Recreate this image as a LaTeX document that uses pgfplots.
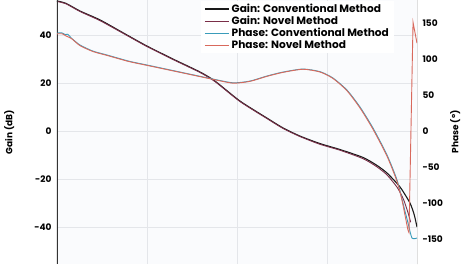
\documentclass[border=0pt]{standalone}
\usepackage{pgfplots}
\pgfplotsset{compat=1.18}
\usepackage{fontspec}
\setmainfont{Poppins}
\definecolor{gconv}{HTML}{1A1A1A}
\definecolor{gnov}{HTML}{7A2E48}
\definecolor{pconv}{HTML}{3A9CBA}
\definecolor{pnov}{HTML}{D9695C}
\definecolor{bg}{HTML}{FAFBFD}
\definecolor{gridc}{HTML}{E4E6EA}
\begin{document}
\begin{tikzpicture}
\begin{axis}[name=ax, width=360pt, height=264pt, scale only axis,
  xmin=0, xmax=4, ymin=-55.4, ymax=54.6,
  axis background/.style={fill=bg},
  axis line style={draw=none},
  xtick={1,2,3}, xticklabels={}, ytick={-40,-20,0,20,40},
  major tick length=0pt,
  grid=major, major grid style={gridc, line width=0.8pt},
  /pgf/number format/assume math mode=true,
  yticklabel style={font=\fontsize{9}{11}\bfseries, xshift=-2pt},
  ylabel={Gain (dB)},
  ylabel style={at={(axis description cs:-0.133,0.5)}, anchor=center, font=\fontsize{9}{11}\bfseries},
  ]
\addplot[gconv, line width=1.1pt, smooth, tension=0.4] coordinates {
(0,54.2)(0.1,53.2)(0.256,50)(0.478,46.3)(0.75,40.6)(1.0,35.4)(1.3,29.8)(1.589,24.6)(1.756,20.8)(2.033,12.5)(2.333,5.4)(2.511,1.3)(2.7,-2.1)(2.92,-5.2)(3.144,-7.7)(3.4,-11)(3.55,-14.2)(3.667,-17.5)(3.811,-23.3)(3.922,-30)(3.97,-35)(4.0,-40)};
\addplot[gnov, line width=0.9pt, smooth, tension=0.4] coordinates {
(0,54.0)(0.1,53.0)(0.256,49.8)(0.478,46.0)(0.75,40.4)(1.0,35.2)(1.3,29.6)(1.589,24.4)(1.756,20.6)(2.033,12.3)(2.333,5.2)(2.511,1.1)(2.7,-2.3)(2.92,-5.5)(3.144,-8.0)(3.4,-11.5)(3.55,-14.8)(3.667,-18.3)(3.78,-23.5)(3.85,-28.5)(3.9,-34)(3.93,-38)};
\draw[black!80, line width=1.4pt] (rel axis cs:0,0) -- (rel axis cs:0,1);
\end{axis}
\begin{axis}[width=360pt, height=264pt, scale only axis,
  xmin=0, xmax=4, ymin=-184.7, ymax=182,
  axis line style={draw=none},
  xtick=\empty, ytick={-150,-100,-50,0,50,100,150},
  major tick length=0pt,
  yticklabel pos=right,
  /pgf/number format/assume math mode=true,
  yticklabel style={font=\fontsize{9}{11}\bfseries, xshift=2pt},
  ylabel={Phase (°)},
  ylabel style={at={(axis description cs:1.106,0.5)}, anchor=center, font=\fontsize{9}{11}\bfseries},
  legend style={at={(rel axis cs:0.40,0.997)}, anchor=north west, draw=none, fill=white,
    font=\fontsize{10.6}{12}\bfseries, row sep=-1.8pt, inner xsep=3pt, inner ysep=1pt,
    nodes={inner xsep=2pt}},
  legend cell align=left,
  legend image code/.code={\draw[#1, line width=1.3pt] (0cm,0cm) -- (0.85cm,0cm);},
  ]
\addlegendimage{gconv}
\addlegendentry{Gain: Conventional Method}
\addlegendimage{gnov}
\addlegendentry{Gain: Novel Method}
\addplot[pconv, line width=0.9pt, smooth, tension=0.4] coordinates {
(0,136)(0.05,136.5)(0.09,134)(0.12,134.5)(0.16,129)(0.256,119.4)(0.4,111)(0.556,105.6)(0.8,97)(1.0,91.7)(1.367,81.9)(1.733,72.2)(1.956,67)(2.144,69.4)(2.333,76.4)(2.511,81.9)(2.733,86.1)(2.922,82.5)(3.067,73.6)(3.222,56.9)(3.367,33.3)(3.511,4.2)(3.667,-33.3)(3.778,-68)(3.844,-100)(3.9,-127.8)(3.944,-148.6)(4.0,-148.6)};
\addlegendentry{Phase: Conventional Method}
\addplot[pnov, line width=0.9pt, smooth, tension=0.4] coordinates {
(0,135)(0.06,135)(0.1,132)(0.16,128.5)(0.256,118.6)(0.4,110.4)(0.556,105)(0.8,96.5)(1.0,91.2)(1.367,81.5)(1.733,71.8)(1.956,66.5)(2.144,69)(2.333,76)(2.511,81.5)(2.733,85.8)(2.922,82)(3.067,73)(3.222,56)(3.367,32)(3.511,2.5)(3.667,-35)(3.778,-70)(3.833,-96)(3.867,-117)(3.9,-138)};
\addlegendentry{Phase: Novel Method}
\addplot[pnov, line width=0.9pt, forget plot] coordinates {
(3.9,-138)(3.911,-141)(3.956,151)(4.0,122)};
\draw[black, line width=1pt] (rel axis cs:1,0) -- (rel axis cs:1,1);
\end{axis}
\pgfresetboundingbox
\path ([xshift=-57pt]ax.south west) rectangle ([xshift=51pt]ax.north east);
\end{tikzpicture}
\end{document}
